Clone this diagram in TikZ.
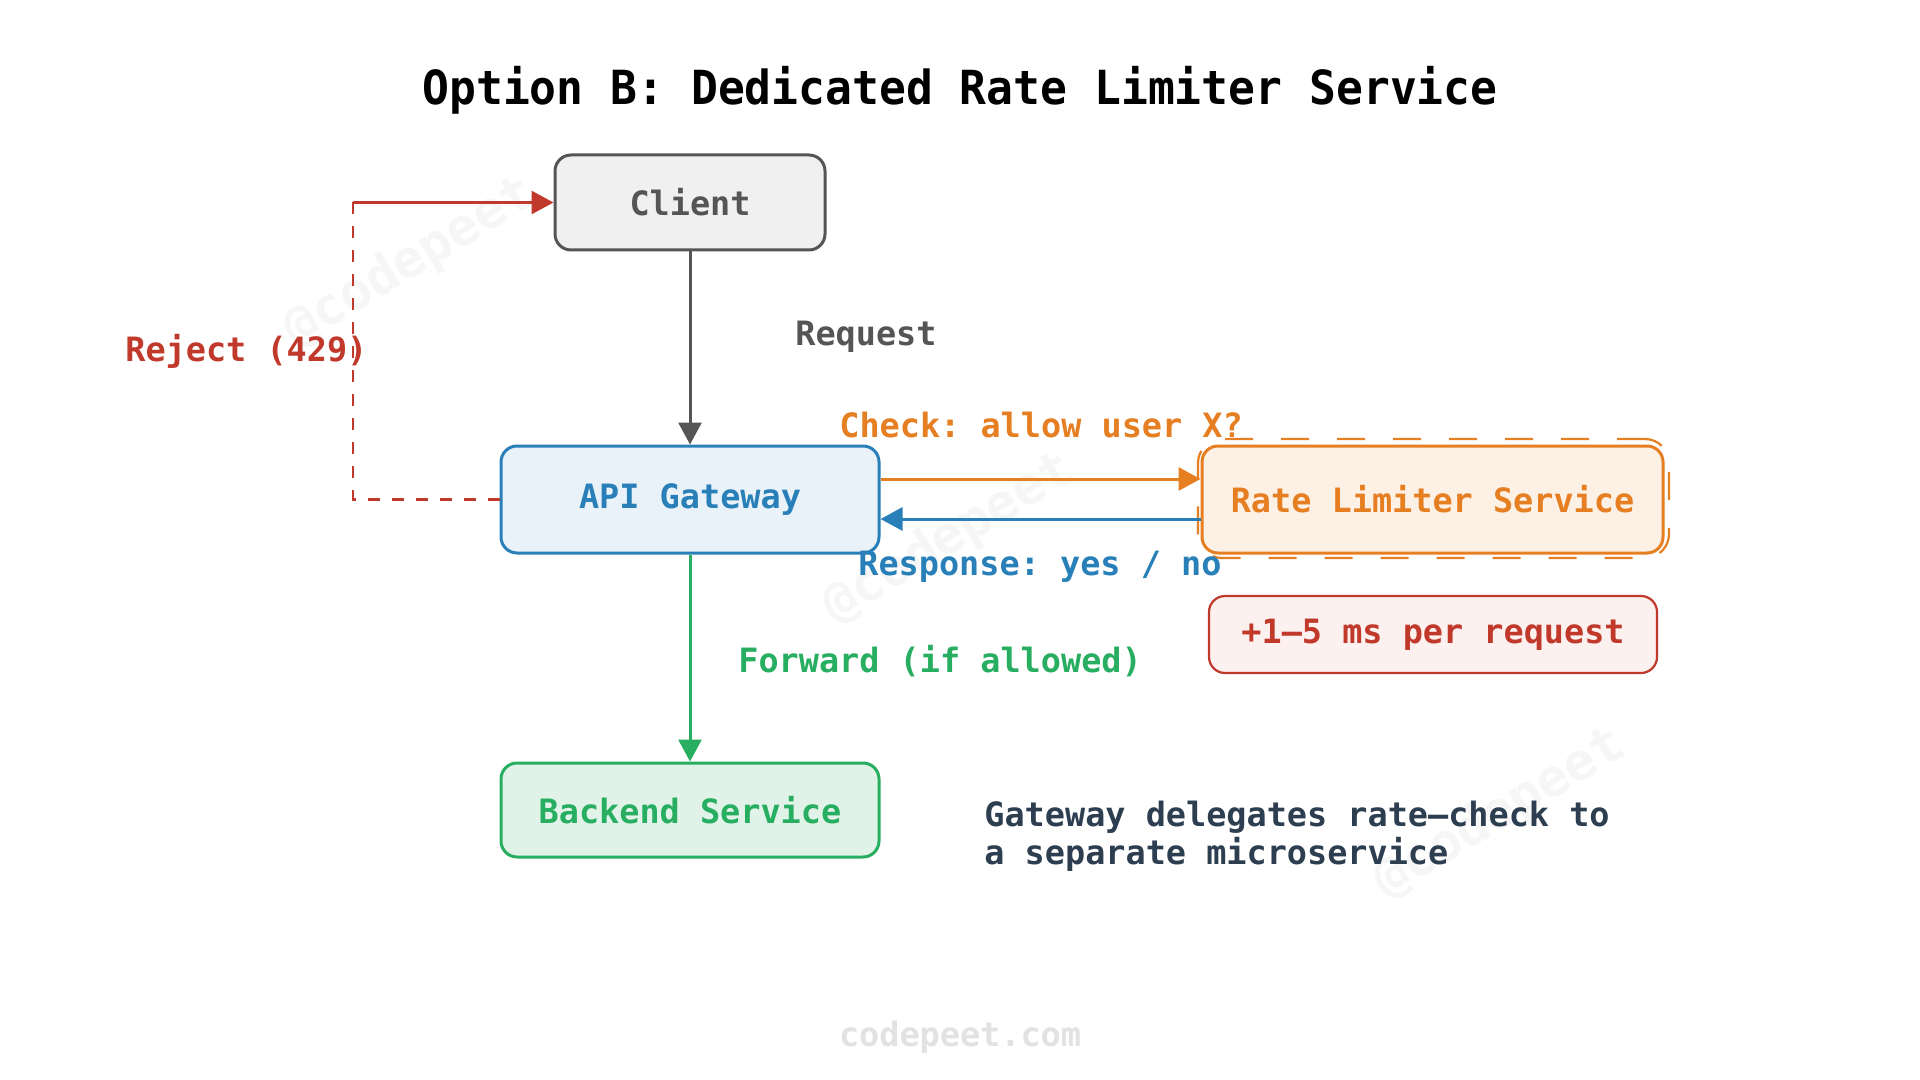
\documentclass[tikz,border=0pt]{standalone}
\usepackage{fontspec}
\newfontfamily\dmono{DejaVu Sans Mono}
\newfontfamily\dmonotitle[FakeStretch=0.95]{DejaVu Sans Mono}
\usetikzlibrary{arrows.meta}
\definecolor{cgray}{HTML}{555555}
\definecolor{cgrayfill}{HTML}{F0F0F0}
\definecolor{cblue}{HTML}{2980B9}
\definecolor{cbluefill}{HTML}{EAF2F9}
\definecolor{corange}{HTML}{E67E22}
\definecolor{corangefill}{HTML}{FDF0E5}
\definecolor{cgreen}{HTML}{27AE60}
\definecolor{cgreenfill}{HTML}{E1F3E8}
\definecolor{cred}{HTML}{C0392B}
\definecolor{credfill}{HTML}{FDF1F0}
\definecolor{cdark}{HTML}{2C3E50}
\definecolor{cwater}{HTML}{F6F6F6}
\definecolor{cfoot}{HTML}{E2E2E2}
\tikzset{
  txt/.style={font=\frenchspacing\dmono\bfseries\fontsize{16.75}{19}\selectfont},
  box/.style={txt, draw, rounded corners=8pt, line width=1.5pt, inner sep=0pt},
  lbl/.style={txt, inner sep=0pt, anchor=base west},
  arr/.style={line width=1.5pt, -{Triangle[length=11pt,width=11.5pt]}},
  wmark/.style={font=\dmono\bfseries\fontsize{26}{30}\selectfont, text=cwater, rotate=31, inner sep=0pt}
}
\begin{document}
\begin{tikzpicture}[x=0.5pt,y=-0.5pt]
\useasboundingbox[fill=white] (0,0) rectangle (1920,1080);

% watermarks
\node[wmark] (wm1) at (410,263) {@codepeet};
\node[wmark] (wm2) at (949,539) {@codepeet};
\node[wmark] (wm3) at (1500,814) {@codepeet};

% title
\node[font=\frenchspacing\dmonotitle\bfseries\fontsize{23.5}{28}\selectfont, anchor=base, inner sep=0pt] (title) at (960,105) {Option B: Dedicated Rate Limiter Service};

% nodes
\node[box, draw=cgray, fill=cgrayfill, text=cgray, minimum width=135pt, minimum height=47.5pt] (client) at (690,202.5) {Client};
\node[box, draw=cblue, fill=cbluefill, text=cblue, minimum width=189pt, minimum height=53.5pt] (api) at (690,499.5) {API Gateway};
\node[draw=corange, dash pattern=on 14pt off 14pt, rounded corners=12pt, line width=1.1pt, minimum width=235.5pt, minimum height=59.5pt, inner sep=0pt] (rlhalo) at (1433.5,498.5) {};
\node[box, draw=corange, fill=corangefill, text=corange, minimum width=230.5pt, minimum height=53.5pt] (rl) at (1432.5,499.5) {Rate Limiter Service};
\node[box, draw=cgreen, fill=cgreenfill, text=cgreen, minimum width=189pt, minimum height=47pt] (backend) at (690,810) {Backend Service};
\node[box, draw=cred, fill=credfill, text=cred, line width=1.1pt, minimum width=224pt, minimum height=38.5pt] (cost) at (1433,634.5) {+1–5 ms per request};

% labels
\node[lbl, text=cgray] (lreq) at (795,345) {Request};
\node[lbl, text=corange] (lcheck) at (839,437) {Check: allow user X?};
\node[lbl, text=cblue] (lresp) at (858,575) {Response: yes / no};
\node[lbl, text=cgreen] (lfwd) at (738,672) {Forward (if allowed)};
\node[lbl, text=cred] (lrej) at (125,362) {Reject (429)};
\node[txt, text=cdark, align=left, anchor=north west, inner sep=0pt] (note) at (984,801) {Gateway delegates rate–check to\\[0pt]a separate microservice};
\node[font=\dmono\bfseries\fontsize{16.75}{19}\selectfont, text=cfoot, anchor=base, inner sep=0pt] (foot) at (960,1046) {codepeet.com};

% connectors
\draw[arr, cgray] (client) -- (api);
\draw[arr, corange] ([yshift=10.25pt]api.east) -- ([yshift=10.25pt]rl.west);
\draw[arr, cblue] ([yshift=-9.75pt]rl.west) -- ([yshift=-9.75pt]api.east);
\draw[arr, cgreen] (api) -- (backend);
\coordinate (rc) at (353,202.5);
\draw[cred, line width=1.4pt, dash pattern=on 6pt off 6pt] (api.west) -| (rc);
\draw[arr, cred, line width=1.4pt] (rc) -- (client.west);
\end{tikzpicture}
\end{document}
